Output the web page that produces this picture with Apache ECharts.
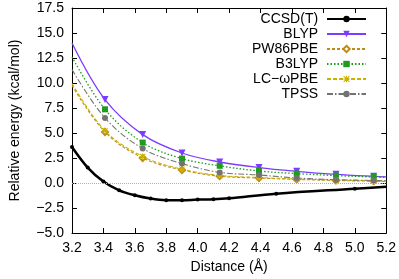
<!DOCTYPE html>
<html><head><meta charset="utf-8">
<script src="https://cdn.jsdelivr.net/npm/echarts@6/dist/echarts.min.js"></script>
<style>html,body{margin:0;padding:0;background:#fff}#c{width:399px;height:279px}</style>
</head><body><div id="c"></div>
<script>
const ccsdX = [3.2, 3.3, 3.4, 3.5, 3.6, 3.7, 3.8, 3.9, 4.0, 4.1, 4.2, 4.5, 5.0, 5.2];
const ccsdY = [3.6, 1.54, 0.14, -0.73, -1.23, -1.56, -1.72, -1.73, -1.66, -1.62, -1.52, -1.07, -0.57, -0.37];
const ccsdMarker = [1,1,1,1,1,1,1,1,1,1,1,1,1,0];

const dftX = [3.2, 3.41, 3.65, 3.9, 4.14, 4.39, 4.63, 4.88, 5.12, 5.2];
const dftMarker = [0,1,1,1,1,1,1,1,1,0];
const blyp = [14.0, 8.34, 4.84, 3.0, 2.1, 1.54, 1.17, 0.87, 0.67, 0.62];
const pw86pbe = [9.75, 5.1, 2.5, 1.3, 0.68, 0.5, 0.36, 0.25, 0.18, 0.16];
const b3lyp = [12.6, 7.37, 4.04, 2.44, 1.72, 1.2, 0.94, 0.74, 0.6, 0.56];
const lcwpbe = [9.95, 5.22, 2.65, 1.38, 0.75, 0.55, 0.4, 0.3, 0.22, 0.2];
const tpss = [11.35, 6.5, 3.44, 1.94, 1.06, 0.8, 0.5, 0.33, 0.25, 0.22];

const names = ['CCSD(T)', 'BLYP', 'PW86PBE', 'B3LYP', 'LC\u2212\u03C9PBE', 'TPSS'];
const xTicks = {min: 3.2, max: 5.2, interval: 0.2};
const yTicks = {min: -5, max: 17.5, interval: 2.5};

const FONT = 'Liberation Sans, Arial, Helvetica, sans-serif';
const asterisk = 'path://M4.2,0h1.6v4.2h4.2v1.6h-4.2v4.2h-1.6v-4.2h-4.2v-1.6h4.2z M1.1,0 L5,3.9 L8.9,0 L10,1.1 L6.1,5 L10,8.9 L8.9,10 L5,6.1 L1.1,10 L0,8.9 L3.9,5 L0,1.1z';

function pts(xs, ys, flags) {
  return xs.map((x, i) => flags[i] ? [x, ys[i]] : {value: [x, ys[i]], symbol: 'none'});
}
function mk(name, ys, color, type, width, symbol, size, extra) {
  return Object.assign({
    name, type: 'line', data: pts(dftX, ys, dftMarker), smooth: 0.35,
    color, lineStyle: {color, width, type}, symbol, symbolSize: size,
    itemStyle: {color}, z: 3
  }, extra || {});
}

const chart = echarts.init(document.getElementById('c'));
chart.setOption({
  animation: false,
  textStyle: {fontFamily: FONT},
  grid: {left: 68, right: 11, top: 8, bottom: 46},
  legend: {
    data: names, orient: 'vertical', align: 'right', right: 27, top: 7,
    itemWidth: 39, itemHeight: 8, itemGap: 1,
    formatter: n => n + ' ',
    textStyle: {fontFamily: FONT, fontSize: 14, color: '#000', lineHeight: 14}
  },
  xAxis: [{
    type: 'value', min: xTicks.min, max: xTicks.max, interval: xTicks.interval,
    name: 'Distance (\u00C5)', nameLocation: 'middle', nameGap: 27,
    nameTextStyle: {fontFamily: FONT, fontSize: 14, color: '#000'},
    axisLine: {show: true, onZero: false, lineStyle: {color: '#000', width: 1}},
    axisTick: {inside: true, length: 5, lineStyle: {color: '#000'}},
    axisLabel: {fontFamily: FONT, fontSize: 14, color: '#000', margin: 8, formatter: v => v.toFixed(1)},
    splitLine: {show: false}
  }, {
    type: 'value', position: 'top', min: xTicks.min, max: xTicks.max, interval: xTicks.interval,
    axisLine: {show: true, onZero: false, lineStyle: {color: '#000', width: 1}},
    axisTick: {inside: true, length: 5, lineStyle: {color: '#000'}},
    axisLabel: {show: false}, splitLine: {show: false}
  }],
  yAxis: [{
    type: 'value', min: yTicks.min, max: yTicks.max, interval: yTicks.interval,
    name: 'Relative energy (kcal/mol)', nameLocation: 'middle', nameGap: 50,
    nameTextStyle: {fontFamily: FONT, fontSize: 14, color: '#000'},
    axisLine: {show: true, onZero: false, lineStyle: {color: '#000', width: 1}},
    axisTick: {inside: true, length: 5, lineStyle: {color: '#000'}},
    axisLabel: {fontFamily: FONT, fontSize: 14, color: '#000', margin: 8,
      formatter: v => v.toFixed(1).replace('-', '\u2212')},
    splitLine: {show: false}
  }, {
    type: 'value', position: 'right', min: yTicks.min, max: yTicks.max, interval: yTicks.interval,
    axisLine: {show: true, onZero: false, lineStyle: {color: '#000', width: 1}},
    axisTick: {inside: true, length: 5, lineStyle: {color: '#000'}},
    axisLabel: {show: false}, splitLine: {show: false}
  }],
  series: [
    {
      name: names[0], type: 'line', data: pts(ccsdX, ccsdY, ccsdMarker), smooth: 0.35,
      color: '#000', lineStyle: {color: '#000', width: 2.5}, symbol: 'circle', symbolSize: 4,
      itemStyle: {color: '#000'}, z: 4,
      markLine: {silent: true, symbol: 'none', label: {show: false},
        lineStyle: {color: '#b0b0b0', type: 'dotted', width: 1}, data: [{yAxis: 0}]}
    },
    mk(names[1], blyp, '#7b3cff', 'solid', 1.3, 'triangle', 7, {symbolRotate: 180}),
    mk(names[2], pw86pbe, '#c08a1a', [3, 2], 1.1, 'emptyDiamond', 6),
    mk(names[3], b3lyp, '#1e9c1e', [1.5, 2], 1.3, 'rect', 6),
    mk(names[4], lcwpbe, '#c8b400', [4, 2], 1.1, asterisk, 6),
    mk(names[5], tpss, '#737373', [6, 2, 1.5, 2], 1.1, 'circle', 6)
  ]
});
</script></body></html>
